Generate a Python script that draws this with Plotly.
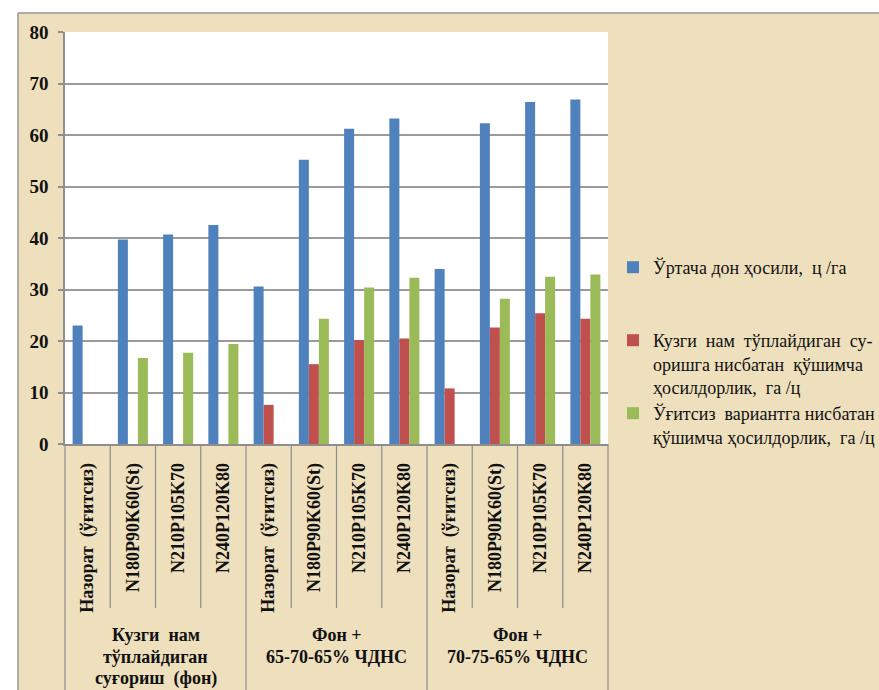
import plotly.graph_objects as go

# ---------------- data ----------------
inner_labels = ["Назорат \u00a0(ўғитсиз)", "N180P90K60(St)", "N210P105K70", "N240P120K80"] * 3
group_labels = [["Кузги \u00a0нам", "тўплайдиган", "суғориш \u00a0(фон)"],
                ["Фон +", "65-70-65% ЧДНС"],
                ["Фон +", "70-75-65% ЧДНС"]]
series_names = ["Ўртача дон ҳосили, \u00a0ц /га",
                "Кузги \u00a0нам \u00a0тўплайдиган \u00a0су-<br>оришга нисбатан \u00a0қўшимча<br>ҳосилдорлик, \u00a0га /ц",
                "Ўғитсиз \u00a0вариантга нисбатан<br>қўшимча ҳосилдорлик, \u00a0га /ц"]
yield_avg = [23.0, 39.7, 40.7, 42.5, 30.6, 55.2, 61.2, 63.2, 34.0, 62.3, 66.4, 66.9]
extra_vs_base = [None, None, None, None, 7.6, 15.5, 20.2, 20.5, 10.8, 22.6, 25.4, 24.3]
extra_vs_nofert = [None, 16.7, 17.7, 19.4, None, 24.3, 30.4, 32.3, None, 28.2, 32.5, 32.9]
y_ticks = [0, 10, 20, 30, 40, 50, 60, 70, 80]

colors = ["#4F81BD", "#C0504D", "#9BBB59"]
x = list(range(len(inner_labels)))

# ---------------- geometry ----------------
W, H = 879, 690
ML, MR, MT, MB = 65, 271, 32, 246
PW, PH = W - ML - MR, H - MT - MB


def px_x(p):
    return (p - ML) / PW


def px_y(p):
    return (H - MB - p) / PH


SERIF = "Liberation Serif"
fig = go.Figure()
series = [yield_avg, extra_vs_base, extra_vs_nofert]
legends = ["legend", "legend2", "legend3"]
for name, vals, col, lg in zip(series_names, series, colors, legends):
    fig.add_trace(go.Bar(x=x, y=vals, name=name, marker_color=col,
                         marker_line_width=0, legend=lg))

shapes = []
n = len(inner_labels)
for k in range(n + 1):
    long_line = (k % 4 == 0)
    shapes.append(dict(type="line", xref="paper", yref="paper",
                       x0=k / n, x1=k / n, y0=0,
                       y1=px_y(H + 5) if long_line else px_y(608),
                       line=dict(color="#8E8E8E", width=1.2)))
shapes.append(dict(type="rect", xref="paper", yref="paper", layer="above",
                   x0=px_x(-5), x1=px_x(W + 5), y0=px_y(12.5), y1=px_y(-5),
                   fillcolor="white", line_width=0))
shapes.append(dict(type="rect", xref="paper", yref="paper", layer="above",
                   x0=px_x(-5), x1=px_x(17.5), y0=px_y(H + 5), y1=px_y(-5),
                   fillcolor="white", line_width=0))
shapes.append(dict(type="line", xref="paper", yref="paper", layer="above",
                   x0=px_x(18), x1=px_x(W + 5), y0=px_y(13), y1=px_y(13),
                   line=dict(color="#9A9A9A", width=1.5)))
shapes.append(dict(type="line", xref="paper", yref="paper", layer="above",
                   x0=px_x(18), x1=px_x(18), y0=px_y(13), y1=px_y(H + 5),
                   line=dict(color="#9A9A9A", width=1.5)))

annotations = []
for gi, lines in enumerate(group_labels):
    for li, line in enumerate(lines):
        annotations.append(dict(text=line, xref="x", yref="paper",
                                x=gi * 4 + 1.5, y=px_y(635 + 21.5 * li),
                                xanchor="center", yanchor="middle",
                                showarrow=False, align="center",
                                font=dict(family=SERIF, size=18, color="#111111", weight="bold")))

leg_common = dict(xanchor="left", yanchor="top", bgcolor="rgba(0,0,0,0)",
                  font=dict(family=SERIF, size=18, color="#111111"),
                  valign="top", itemwidth=30, borderwidth=0)

fig.update_layout(
    width=W, height=H,
    margin=dict(l=ML, r=MR, t=MT, b=MB, autoexpand=False),
    paper_bgcolor="#EEDFBD",
    plot_bgcolor="white",
    barmode="group", bargap=0.337, bargroupgap=0,
    shapes=shapes, annotations=annotations,
    showlegend=True,
    legend=dict(x=px_x(613), y=px_y(249), **leg_common),
    legend2=dict(x=px_x(613), y=px_y(322), **leg_common),
    legend3=dict(x=px_x(613), y=px_y(395), **leg_common),
    xaxis=dict(range=[-0.5, n - 0.5], tickmode="array", tickvals=x, ticktext=inner_labels,
               tickangle=-90, showgrid=False, zeroline=False, ticks="",
               showline=True, linecolor="#8E8E8E", linewidth=1.5,
               ticklabelstandoff=10,
               tickfont=dict(family=SERIF, size=18, color="#111111", weight="bold")),
    yaxis=dict(range=[0, 80], tickmode="array", tickvals=y_ticks,
               showgrid=True, gridcolor="#9A9A9A", gridwidth=1.5, zeroline=False,
               showline=True, linecolor="#8E8E8E", linewidth=1.5,
               ticks="outside", ticklen=5, tickcolor="#8E8E8E", tickwidth=1.5,
               ticklabelstandoff=6,
               tickfont=dict(family=SERIF, size=19, color="#111111", weight="bold")),
)

fig.write_html("out.html")
